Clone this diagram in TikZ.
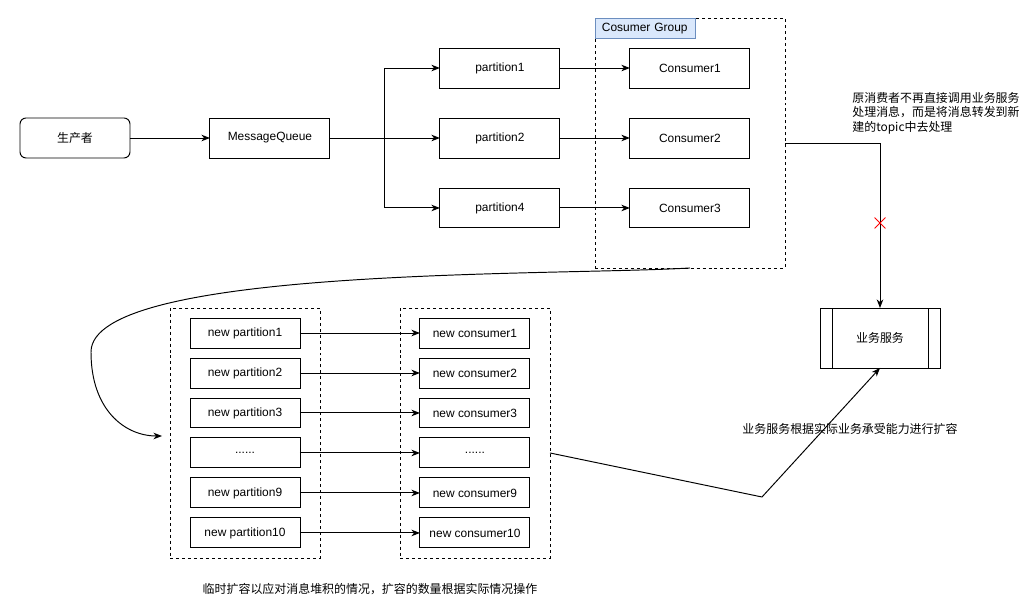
\documentclass[tikz,border=0pt]{standalone}
\usepackage{fontspec}
\setmainfont{Liberation Sans}
\newfontfamily\cjk{Noto Sans CJK SC}
\usetikzlibrary{arrows.meta,positioning,shapes.misc,calc}
\definecolor{grpfill}{HTML}{DAE8FC}
\definecolor{grpline}{HTML}{6C8EBF}

\begin{document}
\begin{tikzpicture}[x=0.02cm, y=-0.02cm,
    font=\fontsize{6.8}{8.4}\selectfont,
    box/.style={draw, line width=0.55pt, minimum width=2.4cm,
      minimum height=0.8cm, inner sep=0pt, outer sep=0pt},
    smallbox/.style={draw, line width=0.55pt, minimum width=2.2cm,
      minimum height=0.6cm, inner sep=0pt, outer sep=0pt},
    dashbox/.style={draw, line width=0.5pt, dash pattern=on 1.7pt off 1.7pt,
      minimum width=3cm, minimum height=5cm, inner sep=0pt, outer sep=0pt},
    arr/.style={-{Stealth[length=1.7mm,width=1.3mm,inset=0.5mm]},
      line width=0.55pt},
    note/.style={font=\fontsize{6.8}{8.2}\cjk, align=left, inner sep=0pt}]
      \useasboundingbox (0,0) rectangle (1035,614);
      % Producer and queue
      \node[box,
        minimum width=2.2cm,
        rounded corners=0.12cm] (prod) at (75,138) {\cjk 生产者};
      \node[box,
        right=1.6cm of prod] (mq) {MessageQueue};
      % Partitions
      \node[box,
        right=2.2cm of mq] (p2) {partition2};
      \node[box,
        above=0.6cm of p2] (p1) {partition1};
      \node[box,
        below=0.6cm of p2] (p4) {partition4};
      % Consumer group
      \node[dashbox,
        minimum width=3.8cm] (grp) at (690,143) {};
      \node[draw=grpline,
        fill=grpfill,
        line width=0.5pt,
        anchor=north west,
        minimum height=0.4cm,
        inner xsep=0.13cm,
        inner ysep=0pt,
        text width=1.74cm,
        align=left] (grplbl) at (grp.north west) {Cosumer Group};
      \node[box,
        right=1.4cm of p1] (c1) {Consumer1};
      \node[box,
        right=1.4cm of p2] (c2) {Consumer2};
      \node[box,
        right=1.4cm of p4] (c3) {Consumer3};
      % Business service
      \node[box,
        minimum height=1.2cm] (biz) at (880,338) {\cjk 业务服务};
      \draw[line width=0.55pt]
        ([xshift=0.24cm]biz.north west) -- ([xshift=0.24cm]biz.south west)
        ([xshift=-0.24cm]biz.north east) -- ([xshift=-0.24cm]biz.south east);
      % New partitions and consumers
      \node[dashbox] (npbox) at (245,433) {};
      \node[dashbox] (ncbox) at (475,433) {};
      \node[smallbox] (np1) at (245,333) {new partition1};
      \node[smallbox, below=0.2cm of np1] (np2) {new partition2};
      \node[smallbox, below=0.2cm of np2] (np3) {new partition3};
      \node[smallbox, below=0.2cm of np3] (npd) {......};
      \node[smallbox, below=0.2cm of npd] (np9) {new partition9};
      \node[smallbox, below=0.2cm of np9] (np10) {new partition10};
      \node[smallbox, right=2.4cm of np1] (nc1) {new consumer1};
      \node[smallbox, right=2.4cm of np2] (nc2) {new consumer2};
      \node[smallbox, right=2.4cm of np3] (nc3) {new consumer3};
      \node[smallbox, right=2.4cm of npd] (ncd) {......};
      \node[smallbox, right=2.4cm of np9] (nc9) {new consumer9};
      \node[smallbox, right=2.4cm of np10] (nc10) {new consumer10};
      % Notes
      \node[note, anchor=north west] (note1) at (852,92)
        {原消费者不再直接调用业务服务\\处理消息，而是将消息转发到新\\建的topic中去处理};
      \node[note] (note2) at (850,429) {业务服务根据实际业务承受能力进行扩容};
      \node[note] (note3) at (370,589) {临时扩容以应对消息堆积的情况，扩容的数量根据实际情况操作};
      % Connect the nodes with arrows
      \draw[arr] (prod) -- (mq);
      \draw[arr] (mq) -- (p2);
      \draw[arr] (mq.east) -- ++(55,0) |- (p1);
      \draw[arr] (mq.east) -- ++(55,0) |- (p4);
      \draw[arr] (p1) -- (c1);
      \draw[arr] (p2) -- (c2);
      \draw[arr] (p4) -- (c3);
      \foreach \i in {1,2,3,d,9,10}
        \draw[arr] (np\i) -- (nc\i);
      \draw[arr] (grp.east) -| (biz.north);
      \node[cross out, draw=red, line width=0.5pt,
        minimum size=0.2cm, inner sep=0pt] (xmark) at (880,223) {};
      \coordinate (bend) at (91,352);
      \draw[arr] (grp.south) .. controls (560,276) and (91,266) .. (bend)
        .. controls (91,410) and (125,436) .. ([xshift=-0.16cm,yshift=-0.06cm]npbox.west);
      \coordinate (kink) at (762,497);
      \draw[arr] (ncbox.east |- ncd) -- (kink) -- (biz.south);
    \end{tikzpicture}
\end{document}
